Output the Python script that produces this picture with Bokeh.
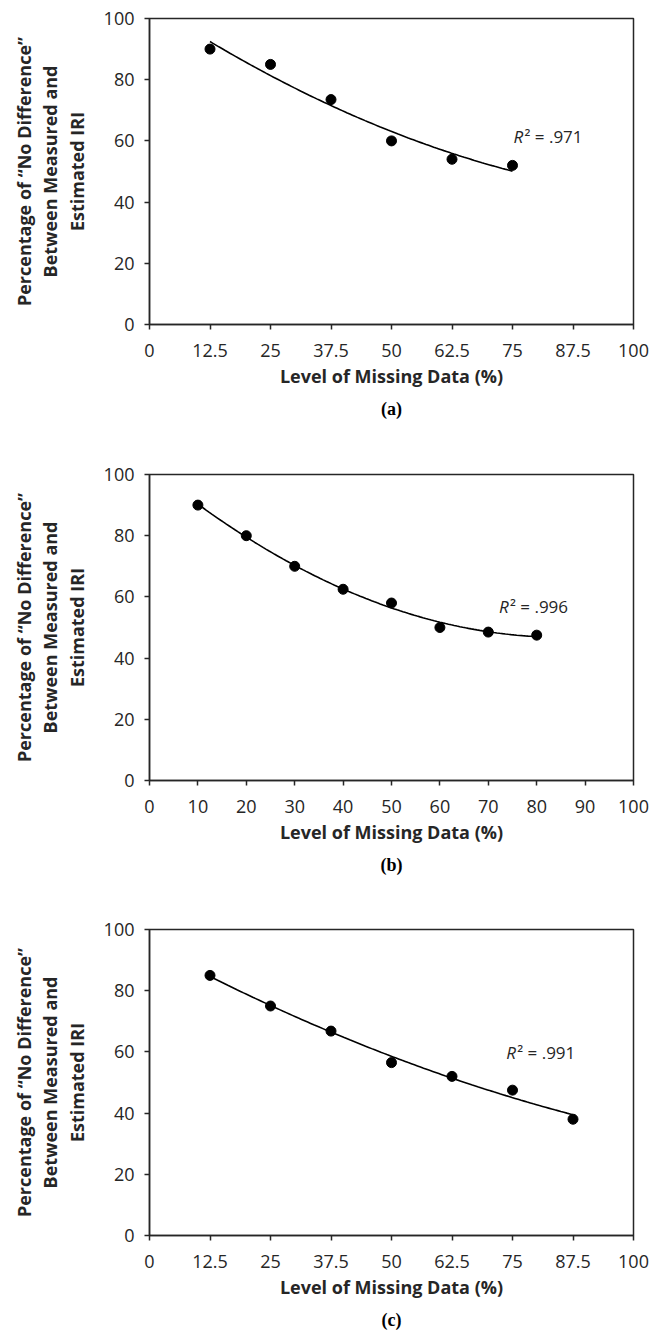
import numpy as np
from bokeh.plotting import figure
from bokeh.models import Range1d, FixedTicker, Label, Title
from bokeh.layouts import column
from bokeh.embed import file_html
from bokeh.resources import INLINE

# ---------------- data ----------------
x_a = [12.5, 25, 37.5, 50, 62.5, 75]
y_a = [90, 85, 73.5, 60, 54, 52]

x_b = [10, 20, 30, 40, 50, 60, 70, 80]
y_b = [90, 80, 70, 62.5, 58, 50, 48.5, 47.5]

x_c = [12.5, 25, 37.5, 50, 62.5, 75, 87.5]
y_c = [85, 75, 66.8, 56.5, 52, 47.5, 38]

x_ticks_eighths = [0, 12.5, 25, 37.5, 50, 62.5, 75, 87.5, 100]
x_labels_eighths = ["0", "12.5", "25", "37.5", "50", "62.5", "75", "87.5", "100"]
x_ticks_tens = [0, 10, 20, 30, 40, 50, 60, 70, 80, 90, 100]
x_labels_tens = ["0", "10", "20", "30", "40", "50", "60", "70", "80", "90", "100"]
y_ticks = [0, 20, 40, 60, 80, 100]

r2_texts = [".971", ".996", ".991"]
panel_labels = ["(a)", "(b)", "(c)"]

x_title = "Level of Missing Data (%)"
y_title = "Percentage of \u201cNo Difference\u201d\nBetween Measured and\nEstimated IRI"

FONT = "Open Sans"
DARK = "#262626"


def make_panel(xs, ys, xticks, xlabels, r2, plabel, r2_pos, top, bottom):
    p = figure(
        output_backend="svg", toolbar_location=None,
        frame_width=484, frame_height=306,
        min_border_left=149, min_border_right=30,
        min_border_top=top, min_border_bottom=bottom,
        x_range=Range1d(0, 100), y_range=Range1d(0, 100),
        background_fill_color="white", border_fill_color="white",
    )
    p.grid.visible = False
    p.outline_line_color = DARK
    p.outline_line_width = 1.5
    p.outline_line_alpha = 1

    for ax in (p.xaxis[0], p.yaxis[0]):
        ax.axis_line_color = DARK
        ax.axis_line_width = 1.5
        ax.major_tick_line_color = DARK
        ax.major_tick_line_width = 1.5
        ax.major_tick_in = 0
        ax.major_tick_out = 5
        ax.minor_tick_line_color = None
        ax.major_label_text_font = FONT
        ax.major_label_text_font_size = "18px"
        ax.major_label_text_color = DARK
        ax.axis_label_text_font = FONT
        ax.axis_label_text_font_style = "bold"
        ax.axis_label_text_font_size = "18px"
        ax.axis_label_text_color = DARK

    p.xaxis.ticker = FixedTicker(ticks=xticks)
    p.xaxis.major_label_overrides = {t: l for t, l in zip(xticks, xlabels)}
    p.xaxis.major_label_standoff = 14
    p.xaxis.axis_label = x_title
    p.xaxis.axis_label_standoff = 4

    p.yaxis.ticker = FixedTicker(ticks=y_ticks)
    p.yaxis.major_label_standoff = 10
    p.yaxis.axis_label = y_title
    p.yaxis.axis_label_standoff = 12
    p.yaxis.axis_label_text_line_height = 1.1

    # quadratic trend line (fitted from the data)
    coef = np.polyfit(xs, ys, 2)
    xf = np.linspace(min(xs), max(xs), 120)
    yf = np.polyval(coef, xf)
    p.line(xf, yf, line_color="black", line_width=1.6)
    p.scatter(xs, ys, size=10, fill_color="black", line_color="black")

    rx, ry = r2_pos
    p.add_layout(Label(x=rx, y=ry, text="R", text_font=FONT, text_font_style="italic",
                       text_font_size="17px", text_color=DARK, text_baseline="middle"))
    p.add_layout(Label(x=rx, y=ry, x_offset=11, text="\u00b2 = " + r2, text_font=FONT,
                       text_font_size="17px", text_color=DARK, text_baseline="middle"))

    p.add_layout(Title(text=plabel, align="center", text_font="Liberation Serif",
                       text_font_style="bold", text_font_size="18px",
                       text_color="black", standoff=13), "below")
    return p


pa = make_panel(x_a, y_a, x_ticks_eighths, x_labels_eighths, r2_texts[0], panel_labels[0], (75.2, 61.5), 18, 132)
pb = make_panel(x_b, y_b, x_ticks_tens, x_labels_tens, r2_texts[1], panel_labels[1], (72.2, 57.0), 18, 131)
pc = make_panel(x_c, y_c, x_ticks_eighths, x_labels_eighths, r2_texts[2], panel_labels[2], (73.7, 59.8), 18, 97)

layout = column(pa, pb, pc, spacing=0)
open("out.html", "w").write(file_html(layout, INLINE))
